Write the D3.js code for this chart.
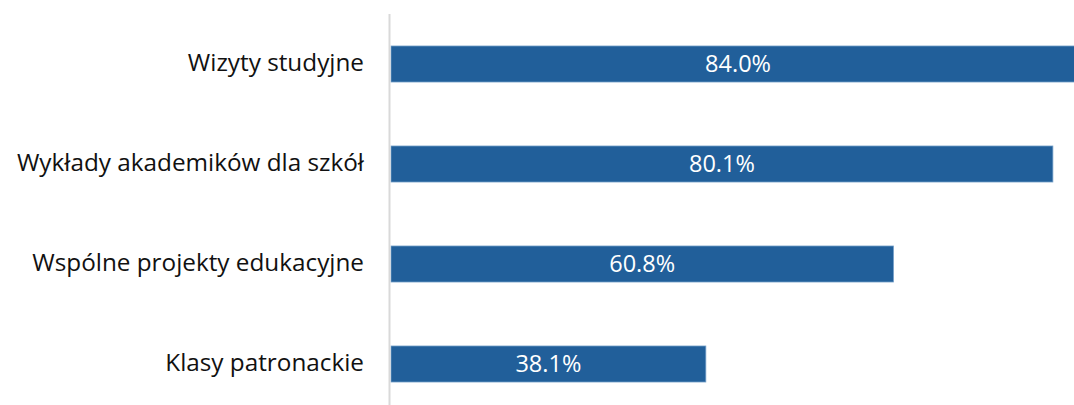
<!DOCTYPE html>
<html><head><meta charset="utf-8">
<script src="https://cdn.jsdelivr.net/npm/d3@7"></script>
<style>body{margin:0;background:#fff;overflow:hidden}</style>
</head><body>
<svg id="c" width="1074" height="405"></svg>
<script>
const categories = ["Wizyty studyjne","Wykłady akademików dla szkół","Wspólne projekty edukacyjne","Klasy patronackie"];
const values = [84.0, 80.1, 60.8, 38.1];
const valueLabels = ["84.0%","80.1%","60.8%","38.1%"];

const svg = d3.select("#c");
const x0 = 391;
const x = d3.scaleLinear().domain([0, 100]).range([x0, x0 + 826.3]);
const y = d3.scaleBand().domain(categories).range([14, 414]).paddingInner(0.64).paddingOuter(0.32);
const font = "'Open Sans', sans-serif";

svg.selectAll("rect.bar").data(categories).join("rect")
  .attr("class","bar")
  .attr("x", x(0))
  .attr("y", d => y(d))
  .attr("width", (d,i) => x(values[i]) - x(0))
  .attr("height", y.bandwidth())
  .attr("fill", "#215F9A")
  .attr("stroke", "#6f9cc6").attr("stroke-width", 0.8);

svg.append("line").attr("x1", 389.5).attr("x2", 389.5).attr("y1", 14).attr("y2", 405)
  .attr("stroke", "#d9d9d9").attr("stroke-width", 2);

const yAxis = d3.axisLeft(y).tickSize(0).tickPadding(0);
const g = svg.append("g").attr("transform", "translate(364,0)").call(yAxis);
g.select(".domain").remove();
g.selectAll("text").attr("font-family", font).attr("font-size", 24.3).attr("fill", "#111").attr("dy","0.3em");

svg.selectAll("text.val").data(categories).join("text")
  .attr("class","val")
  .attr("x", (d,i) => (x(0) + x(values[i])) / 2)
  .attr("y", d => y(d) + y.bandwidth()/2)
  .attr("dy","0.35em")
  .attr("text-anchor","middle")
  .attr("font-family", font).attr("font-size", 23.5).attr("fill", "#fff")
  .text((d,i) => valueLabels[i]);
</script>
</body></html>
